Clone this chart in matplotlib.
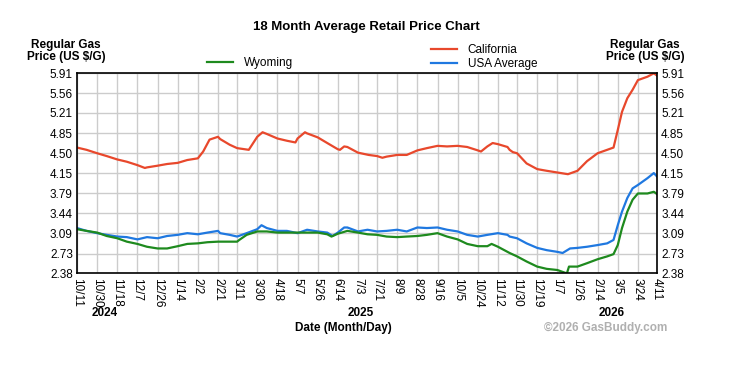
import numpy as np
import pandas as pd
import matplotlib
matplotlib.use("Agg")
from matplotlib import pyplot as plt
import matplotlib.dates as mdates
import matplotlib.transforms as mtransforms

plt.rcParams['font.family'] = ['Liberation Sans', 'DejaVu Sans']

ca_dates = ["2024-10-11", "2024-10-20", "2024-10-30", "2024-11-08", "2024-11-18", "2024-11-27",
            "2024-12-07", "2024-12-14", "2024-12-16", "2024-12-26", "2025-01-04", "2025-01-14",
            "2025-01-23", "2025-02-02", "2025-02-07", "2025-02-13", "2025-02-21", "2025-02-23",
            "2025-03-04", "2025-03-11", "2025-03-22", "2025-03-30", "2025-04-04", "2025-04-08",
            "2025-04-18", "2025-04-27", "2025-05-05", "2025-05-07", "2025-05-14", "2025-05-16",
            "2025-05-26", "2025-06-04", "2025-06-14", "2025-06-16", "2025-06-20", "2025-06-23",
            "2025-07-03", "2025-07-13", "2025-07-21", "2025-07-26", "2025-07-30", "2025-08-09",
            "2025-08-18", "2025-08-28", "2025-09-06", "2025-09-16", "2025-09-25", "2025-10-05",
            "2025-10-14", "2025-10-24", "2025-10-27", "2025-11-02", "2025-11-07", "2025-11-12",
            "2025-11-21", "2025-11-23", "2025-11-26", "2025-11-30", "2025-12-09", "2025-12-19",
            "2025-12-28", "2026-01-07", "2026-01-17", "2026-01-26", "2026-02-04", "2026-02-14",
            "2026-02-23", "2026-03-01", "2026-03-05", "2026-03-09", "2026-03-14", "2026-03-19",
            "2026-03-24", "2026-04-02", "2026-04-08", "2026-04-11"]
ca_vals = [4.60, 4.56, 4.50, 4.45, 4.39, 4.35,
           4.29, 4.24, 4.25, 4.28, 4.31, 4.33,
           4.38, 4.41, 4.53, 4.74, 4.79, 4.75,
           4.65, 4.59, 4.56, 4.79, 4.87, 4.84,
           4.76, 4.72, 4.69, 4.76, 4.87, 4.85,
           4.78, 4.68, 4.57, 4.56, 4.62, 4.61,
           4.51, 4.47, 4.45, 4.42, 4.44, 4.47,
           4.47, 4.55, 4.59, 4.63, 4.62, 4.63,
           4.61, 4.55, 4.53, 4.62, 4.68, 4.66,
           4.61, 4.56, 4.52, 4.50, 4.32, 4.22,
           4.19, 4.16, 4.13, 4.19, 4.36, 4.50,
           4.56, 4.60, 4.91, 5.23, 5.47, 5.62,
           5.79, 5.85, 5.91, 5.87]

us_dates = ["2024-10-11", "2024-10-20", "2024-10-30", "2024-11-08", "2024-11-18", "2024-11-27",
            "2024-12-07", "2024-12-16", "2024-12-26", "2025-01-04", "2025-01-14", "2025-01-23",
            "2025-02-02", "2025-02-11", "2025-02-21", "2025-02-23", "2025-03-04", "2025-03-11",
            "2025-03-20", "2025-03-30", "2025-04-03", "2025-04-08", "2025-04-18", "2025-04-27",
            "2025-05-07", "2025-05-16", "2025-05-26", "2025-06-04", "2025-06-09", "2025-06-14",
            "2025-06-20", "2025-06-23", "2025-07-03", "2025-07-12", "2025-07-21", "2025-07-30",
            "2025-08-09", "2025-08-18", "2025-08-28", "2025-09-06", "2025-09-16", "2025-09-25",
            "2025-10-05", "2025-10-14", "2025-10-24", "2025-11-02", "2025-11-12", "2025-11-21",
            "2025-11-23", "2025-11-30", "2025-12-09", "2025-12-19", "2025-12-28", "2026-01-07",
            "2026-01-12", "2026-01-19", "2026-01-26", "2026-02-04", "2026-02-14", "2026-02-23",
            "2026-03-01", "2026-03-05", "2026-03-09", "2026-03-14", "2026-03-19", "2026-03-24",
            "2026-04-02", "2026-04-08", "2026-04-11"]
us_vals = [3.18, 3.13, 3.09, 3.06, 3.03, 3.02,
           2.98, 3.02, 3.00, 3.04, 3.06, 3.09,
           3.07, 3.10, 3.13, 3.09, 3.06, 3.03,
           3.09, 3.16, 3.23, 3.18, 3.13, 3.13,
           3.09, 3.15, 3.12, 3.10, 3.04, 3.10,
           3.19, 3.19, 3.12, 3.15, 3.12, 3.13,
           3.15, 3.12, 3.19, 3.18, 3.19, 3.15,
           3.12, 3.06, 3.03, 3.06, 3.09, 3.06,
           3.03, 3.00, 2.91, 2.83, 2.79, 2.76,
           2.74, 2.82, 2.83, 2.85, 2.88, 2.91,
           2.97, 3.23, 3.47, 3.71, 3.88, 3.94,
           4.06, 4.15, 4.09]

wy_dates = ["2024-10-11", "2024-10-20", "2024-10-30", "2024-11-08", "2024-11-18", "2024-11-27",
            "2024-12-07", "2024-12-16", "2024-12-26", "2025-01-04", "2025-01-14", "2025-01-23",
            "2025-02-02", "2025-02-11", "2025-02-21", "2025-03-04", "2025-03-11", "2025-03-13",
            "2025-03-20", "2025-03-30", "2025-04-08", "2025-04-18", "2025-05-07", "2025-05-26",
            "2025-06-04", "2025-06-08", "2025-06-14", "2025-06-23", "2025-07-03", "2025-07-12",
            "2025-07-21", "2025-07-30", "2025-08-09", "2025-08-18", "2025-08-28", "2025-09-06",
            "2025-09-16", "2025-09-25", "2025-10-05", "2025-10-14", "2025-10-24", "2025-11-02",
            "2025-11-06", "2025-11-12", "2025-11-21", "2025-11-23", "2025-11-30", "2025-12-09",
            "2025-12-19", "2025-12-28", "2026-01-07", "2026-01-16", "2026-01-18", "2026-01-26",
            "2026-02-04", "2026-02-14", "2026-02-23", "2026-03-01", "2026-03-05", "2026-03-09",
            "2026-03-14", "2026-03-19", "2026-03-24", "2026-04-02", "2026-04-08", "2026-04-11"]
wy_vals = [3.16, 3.13, 3.10, 3.04, 3.00, 2.94,
           2.90, 2.85, 2.82, 2.82, 2.86, 2.90,
           2.91, 2.93, 2.94, 2.94, 2.94, 2.97,
           3.06, 3.12, 3.12, 3.10, 3.10, 3.10,
           3.07, 3.03, 3.08, 3.13, 3.10, 3.07,
           3.06, 3.03, 3.02, 3.03, 3.04, 3.06,
           3.09, 3.03, 2.98, 2.90, 2.86, 2.86,
           2.90, 2.85, 2.76, 2.74, 2.68, 2.59,
           2.50, 2.46, 2.44, 2.38, 2.50, 2.50,
           2.56, 2.63, 2.68, 2.72, 2.88, 3.18,
           3.47, 3.68, 3.79, 3.79, 3.82, 3.78]

tick_dates = ["2024-10-11", "2024-10-30", "2024-11-18", "2024-12-07", "2024-12-26", "2025-01-14",
              "2025-02-02", "2025-02-21", "2025-03-11", "2025-03-30", "2025-04-18", "2025-05-07",
              "2025-05-26", "2025-06-14", "2025-07-03", "2025-07-21", "2025-08-09", "2025-08-28",
              "2025-09-16", "2025-10-05", "2025-10-24", "2025-11-12", "2025-11-30", "2025-12-19",
              "2026-01-07", "2026-01-26", "2026-02-14", "2026-03-05", "2026-03-24", "2026-04-11"]
tick_labels = ["10/11", "10/30", "11/18", "12/7", "12/26", "1/14", "2/2", "2/21", "3/11", "3/30",
               "4/18", "5/7", "5/26", "6/14", "7/3", "7/21", "8/9", "8/28", "9/16", "10/5",
               "10/24", "11/12", "11/30", "12/19", "1/7", "1/26", "2/14", "3/5", "3/24", "4/11"]
y_ticks = [2.38, 2.73, 3.09, 3.44, 3.79, 4.15, 4.50, 4.85, 5.21, 5.56, 5.91]
years = ["2024", "2025", "2026"]
year_pos = ["2024-11-06", "2025-07-06", "2026-02-27"]

ca_col = "#e8482c"
us_col = "#1f78e0"
wy_col = "#1e8a1e"

fig = plt.figure(figsize=(7.31, 3.71), dpi=100)
fig.patch.set_facecolor("white")
ax = fig.add_axes([77/731, 1 - 273.4/371, 580/731, 200.1/371])

l_ca, = ax.plot(pd.to_datetime(ca_dates), ca_vals, color=ca_col, lw=1.6)
l_us, = ax.plot(pd.to_datetime(us_dates), us_vals, color=us_col, lw=1.6)
l_wy, = ax.plot(pd.to_datetime(wy_dates), wy_vals, color=wy_col, lw=1.6)

ticks = pd.to_datetime(tick_dates)
ax.set_xlim(ticks[0], ticks[-1])
ax.set_ylim(y_ticks[0], y_ticks[-1])
ax.set_xticks(ticks)
ax.set_xticklabels(tick_labels, rotation=270, fontsize=8.5)
ax.set_yticks(y_ticks)
ax.set_yticklabels(["%.2f" % v for v in y_ticks], fontsize=8.5)
ax.tick_params(axis="both", length=0, pad=3)
ax.tick_params(axis="y", labelright=True, right=False)
ax.grid(True, color="#cccccc", lw=1)
ax.set_axisbelow(True)
for s in ax.spines.values():
    s.set_color("black")
    s.set_linewidth(1.2)

trans = mtransforms.blended_transform_factory(ax.transData, fig.transFigure)
for yr, pos in zip(years, year_pos):
    ax.text(pd.Timestamp(pos), 1 - 313/371, yr, transform=trans, ha="center", va="center",
            fontsize=8.5, fontweight="bold")

fig.text(366/731, 1 - 27/371, "18 Month Average Retail Price Chart", ha="center", va="center",
         fontsize=9.5, fontweight="bold")
fig.text(66/731, 1 - 51/371, "Regular Gas\nPrice (US $/G)", ha="center", va="center",
         fontsize=8.5, fontweight="bold", linespacing=1.1)
fig.text(645/731, 1 - 51/371, "Regular Gas\nPrice (US $/G)", ha="center", va="center",
         fontsize=8.5, fontweight="bold", linespacing=1.1)
fig.text(343/731, 1 - 328/371, "Date (Month/Day)", ha="center", va="center",
         fontsize=8.5, fontweight="bold")
fig.text(667/731, 1 - 328/371, "\u00a92026 GasBuddy.com", ha="right", va="center",
         fontsize=8.5, fontweight="bold", color="#b0b0b0")

fig.legend([l_wy], ["Wyoming"], loc="upper left", bbox_to_anchor=(207/731, 1 - 57/371),
           frameon=False, fontsize=8.5, handlelength=2.2, handletextpad=0.9, borderpad=0,
           borderaxespad=0)
fig.legend([l_ca, l_us], ["California", "USA Average"], loc="upper left",
           bbox_to_anchor=(431/731, 1 - 44/371), frameon=False, fontsize=8.5,
           handlelength=2.2, handletextpad=0.9, borderpad=0, borderaxespad=0, labelspacing=0.2)

fig.savefig("out.png", dpi=100, facecolor="white")
